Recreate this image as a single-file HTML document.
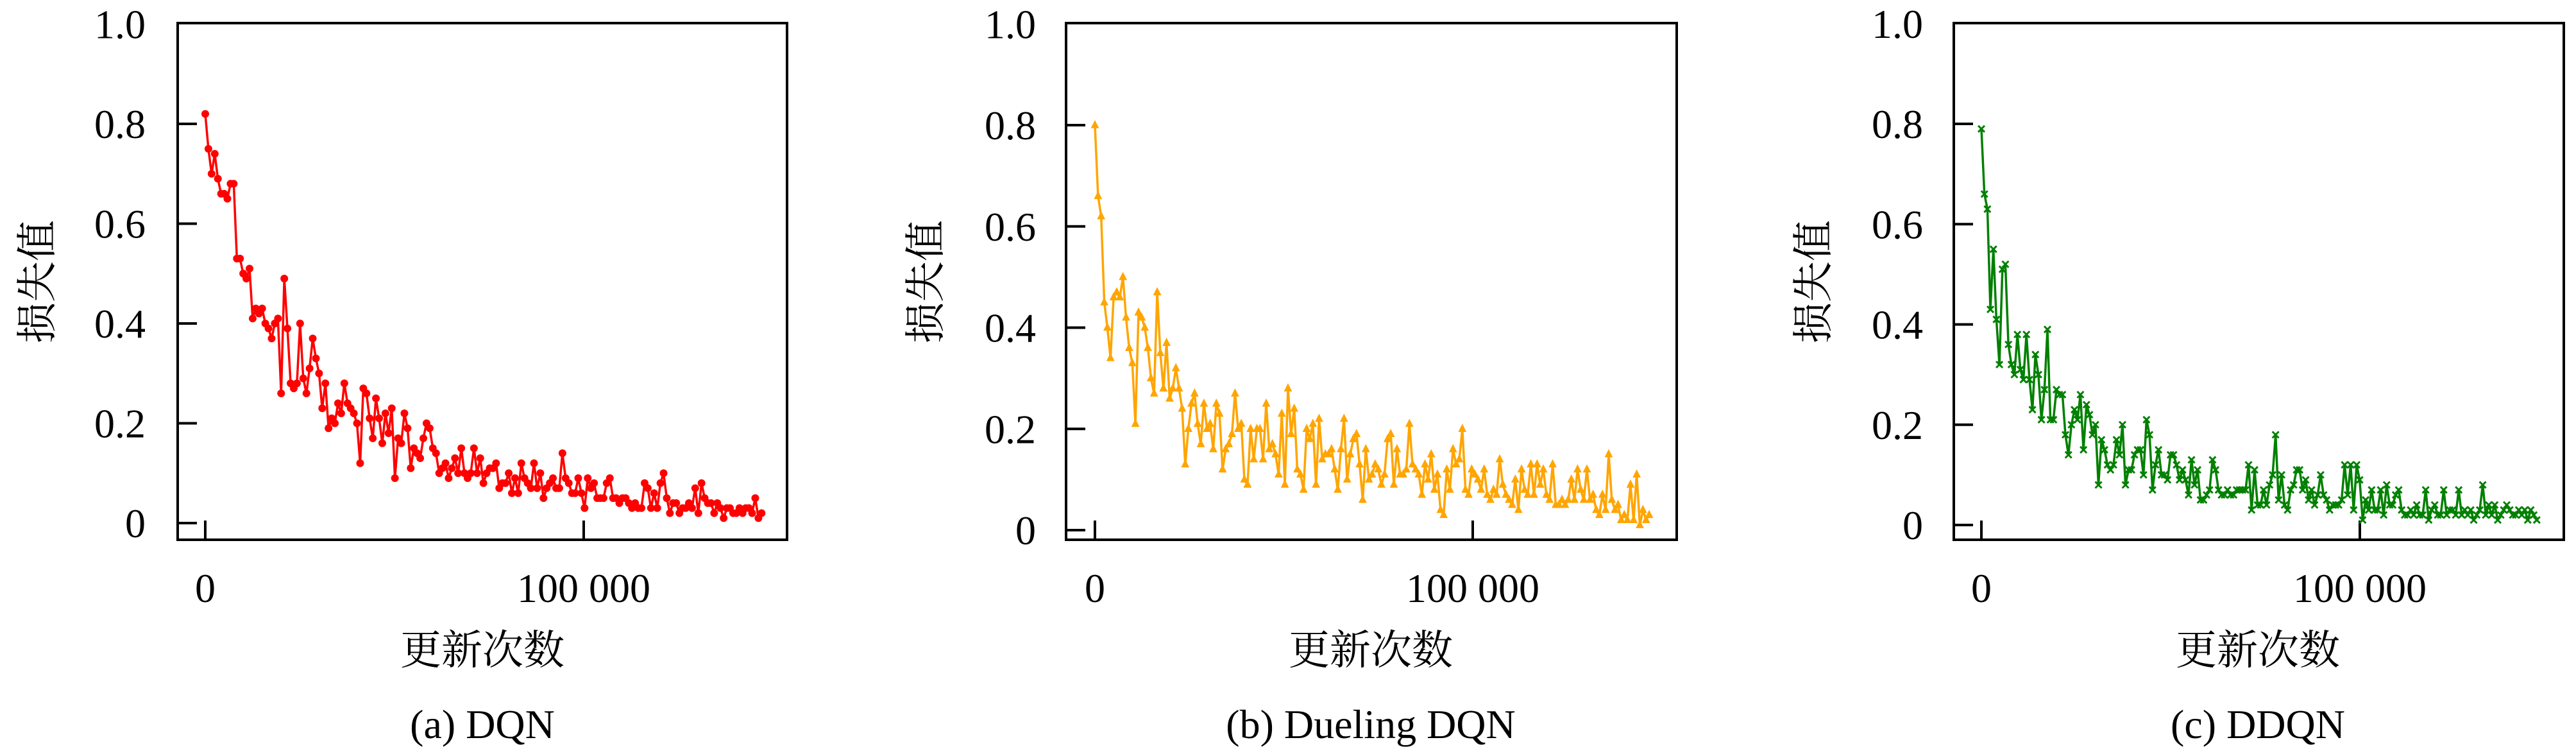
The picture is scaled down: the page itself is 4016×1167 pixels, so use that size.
<!DOCTYPE html>
<html><head><meta charset="utf-8">
<style>
html,body{margin:0;padding:0;background:#fff;}
svg{display:block;}
text{font-family:"Liberation Serif","Noto Serif CJK SC",serif;fill:#000;}
</style></head>
<body>
<svg id="fig" width="4016" height="1167" viewBox="0 0 4016 1167" xmlns="http://www.w3.org/2000/svg"></svg>
<script>
const yTicks = [0, 0.2, 0.4, 0.6, 0.8, 1.0];
const yTickLabels = ["0", "0.2", "0.4", "0.6", "0.8", "1.0"];
const xTicks = [0, 100000];
const xTickLabels = ["0", "100 000"];
const captions = ["(a) DQN", "(b) Dueling DQN", "(c) DDQN"];
const xMaxes = [147000, 146700, 146750];
const dqnLoss = [0.82,0.75,0.70,0.74,0.69,0.66,0.66,0.65,0.68,0.68,0.53,0.53,0.50,0.49,0.51,0.41,0.43,0.42,0.43,0.40,0.39,0.37,0.40,0.41,0.26,0.49,0.39,0.28,0.27,0.28,0.40,0.29,0.26,0.31,0.37,0.33,0.30,0.23,0.28,0.19,0.21,0.20,0.24,0.22,0.28,0.24,0.23,0.22,0.20,0.12,0.27,0.26,0.21,0.17,0.25,0.21,0.16,0.22,0.18,0.23,0.09,0.17,0.16,0.22,0.19,0.11,0.15,0.14,0.13,0.17,0.20,0.19,0.15,0.14,0.10,0.11,0.12,0.09,0.11,0.13,0.10,0.15,0.10,0.09,0.10,0.15,0.10,0.13,0.08,0.10,0.11,0.11,0.12,0.07,0.08,0.08,0.10,0.06,0.09,0.06,0.12,0.09,0.08,0.07,0.12,0.07,0.10,0.05,0.07,0.08,0.09,0.07,0.07,0.14,0.09,0.08,0.06,0.06,0.09,0.06,0.03,0.09,0.07,0.08,0.05,0.05,0.05,0.08,0.09,0.05,0.05,0.04,0.05,0.05,0.04,0.03,0.04,0.03,0.03,0.08,0.07,0.03,0.06,0.03,0.08,0.10,0.05,0.02,0.04,0.04,0.02,0.03,0.03,0.04,0.03,0.07,0.02,0.08,0.05,0.04,0.04,0.02,0.04,0.03,0.01,0.03,0.03,0.02,0.02,0.03,0.02,0.03,0.03,0.02,0.05,0.01,0.02];
const duelingLoss = [0.80,0.66,0.62,0.45,0.40,0.34,0.46,0.47,0.46,0.50,0.42,0.36,0.33,0.21,0.43,0.42,0.40,0.36,0.30,0.27,0.47,0.35,0.28,0.37,0.26,0.28,0.32,0.28,0.24,0.13,0.20,0.25,0.27,0.21,0.17,0.25,0.20,0.21,0.16,0.25,0.23,0.12,0.16,0.17,0.19,0.27,0.20,0.21,0.10,0.09,0.20,0.14,0.20,0.20,0.14,0.25,0.16,0.17,0.15,0.11,0.23,0.09,0.28,0.19,0.24,0.12,0.11,0.08,0.20,0.18,0.21,0.09,0.22,0.14,0.15,0.15,0.16,0.12,0.08,0.16,0.22,0.10,0.15,0.18,0.19,0.13,0.06,0.16,0.10,0.11,0.13,0.12,0.09,0.11,0.18,0.19,0.09,0.16,0.11,0.11,0.12,0.21,0.13,0.12,0.11,0.07,0.13,0.10,0.15,0.08,0.11,0.04,0.03,0.12,0.08,0.16,0.13,0.14,0.20,0.08,0.07,0.12,0.11,0.10,0.08,0.12,0.07,0.06,0.08,0.07,0.14,0.09,0.07,0.06,0.05,0.10,0.04,0.12,0.08,0.07,0.13,0.07,0.13,0.09,0.12,0.07,0.06,0.13,0.05,0.05,0.06,0.05,0.06,0.10,0.06,0.12,0.08,0.06,0.12,0.06,0.07,0.04,0.03,0.07,0.04,0.15,0.06,0.04,0.05,0.02,0.03,0.02,0.09,0.02,0.11,0.01,0.04,0.02,0.03];
const ddqnLoss = [0.79,0.66,0.63,0.43,0.55,0.41,0.32,0.51,0.52,0.36,0.32,0.30,0.38,0.31,0.29,0.38,0.29,0.23,0.34,0.30,0.21,0.27,0.39,0.21,0.21,0.27,0.26,0.26,0.18,0.14,0.20,0.23,0.21,0.26,0.15,0.24,0.22,0.18,0.20,0.08,0.17,0.15,0.12,0.11,0.12,0.17,0.14,0.20,0.08,0.11,0.11,0.14,0.15,0.15,0.10,0.21,0.18,0.07,0.12,0.15,0.10,0.10,0.09,0.14,0.14,0.12,0.09,0.11,0.09,0.06,0.13,0.08,0.11,0.05,0.05,0.06,0.07,0.13,0.11,0.07,0.06,0.06,0.07,0.06,0.06,0.07,0.07,0.07,0.07,0.12,0.03,0.11,0.04,0.04,0.07,0.04,0.08,0.10,0.18,0.05,0.10,0.04,0.03,0.07,0.08,0.11,0.11,0.07,0.09,0.05,0.07,0.04,0.06,0.10,0.06,0.05,0.03,0.04,0.04,0.04,0.05,0.12,0.06,0.12,0.03,0.12,0.09,0.01,0.05,0.03,0.07,0.03,0.03,0.07,0.02,0.08,0.04,0.04,0.06,0.07,0.03,0.02,0.02,0.03,0.02,0.04,0.02,0.02,0.07,0.01,0.03,0.04,0.02,0.02,0.07,0.02,0.03,0.03,0.02,0.07,0.02,0.03,0.02,0.03,0.01,0.02,0.03,0.08,0.02,0.04,0.02,0.04,0.01,0.02,0.03,0.04,0.03,0.02,0.02,0.03,0.02,0.03,0.01,0.03,0.02,0.01];

const NS = "http://www.w3.org/2000/svg";
const svg = document.getElementById("fig");
function mk(tag, attrs, parent) {
  const e = document.createElementNS(NS, tag);
  for (const k in attrs) e.setAttribute(k, attrs[k]);
  (parent || svg).appendChild(e);
  return e;
}
const panels = [
  {data: dqnLoss, color: "#ff0000", marker: "circle", name: "dqn",
   left: 277, right: 1227, top: 36, bottom: 841, x0: 320, x100: 910, y0: 815, y08: 193,
   ylabX: 227, yTitleX: 58, titleX: 752},
  {data: duelingLoss, color: "#ffa500", marker: "triangle", name: "dueling-dqn",
   left: 1662, right: 2614, top: 36, bottom: 841, x0: 1707, x100: 2296, y0: 826, y08: 195,
   ylabX: 1615, yTitleX: 1443, titleX: 2137},
  {data: ddqnLoss, color: "#008000", marker: "cross", name: "ddqn",
   left: 3046, right: 3997, top: 36, bottom: 841, x0: 3089, x100: 3679, y0: 818, y08: 193,
   ylabX: 2998, yTitleX: 2827, titleX: 3520}
];
panels.forEach((p, pi) => {
  const g = mk("g", {});
  
  
  const xs = v => p.x0 + (v / 100000) * (p.x100 - p.x0);
  const ys = v => p.y0 - (v / 0.8) * (p.y0 - p.y08);
  // frame
  const fr = mk("rect", {x: p.left, y: p.top, width: p.right - p.left, height: p.bottom - p.top, fill: "none", stroke: "#000", "stroke-width": 4}, g);
  
  
  // y ticks
  yTicks.forEach((t, i) => {
    const y = ys(t);
    if (t < 1) {
      const tk = mk("line", {x1: p.left, x2: p.left + 30, y1: y, y2: y, stroke: "#000", "stroke-width": 4}, g);
      
      
    }
    const lb = mk("text", {x: p.ylabX, y: y + 22, "text-anchor": "end", "font-size": 64}, g);
    lb.textContent = yTickLabels[i];
    
    
  });
  xTicks.forEach((t, i) => {
    const x = xs(t);
    const tk = mk("line", {x1: x, x2: x, y1: p.bottom, y2: p.bottom - 30, stroke: "#000", "stroke-width": 4}, g);
    
    
    const lb = mk("text", {x: x, y: 938, "text-anchor": "middle", "font-size": 64}, g);
    lb.textContent = xTickLabels[i];
    
    
  });
  const xt = mk("text", {x: p.titleX, y: 1035, "text-anchor": "middle", "font-size": 64}, g);
  xt.textContent = "更新次数";
  
  
  const yt = mk("text", {x: 0, y: 0, "text-anchor": "middle", "font-size": 64, transform: "translate(" + (p.yTitleX + 22) + ",439) rotate(-90)"}, g);
  yt.textContent = "损失值";
  
  
  const cap = mk("text", {x: p.titleX, y: 1150, "text-anchor": "middle", "font-size": 64}, g);
  cap.textContent = captions[pi];
  
  
  // series
  const n = p.data.length;
  const step = xMaxes[pi] / (n - 1);
  const pts = p.data.map((v, i) => [xs(i * step), ys(v)]);
  const line = mk("polyline", {points: pts.map(q => q[0].toFixed(1) + "," + q[1].toFixed(1)).join(" "), fill: "none", stroke: p.color, "stroke-width": 3.5, "stroke-linejoin": "round"}, g);
  
  
  pts.forEach(q => {
    let m;
    if (p.marker === "circle") {
      m = mk("circle", {cx: q[0], cy: q[1], r: 6, fill: p.color}, g);
    } else if (p.marker === "triangle") {
      const s = 8;
      m = mk("polygon", {points: [q[0], q[1] - s, q[0] - s * 0.8, q[1] + s * 0.6, q[0] + s * 0.8, q[1] + s * 0.6].join(","), fill: p.color}, g);
    } else {
      const s = 5;
      m = mk("path", {d: "M" + (q[0] - s) + "," + (q[1] - s) + "L" + (q[0] + s) + "," + (q[1] + s) + "M" + (q[0] - s) + "," + (q[1] + s) + "L" + (q[0] + s) + "," + (q[1] - s), stroke: p.color, "stroke-width": 3}, g);
    }
    
    
  });
});
</script>
</body></html>
